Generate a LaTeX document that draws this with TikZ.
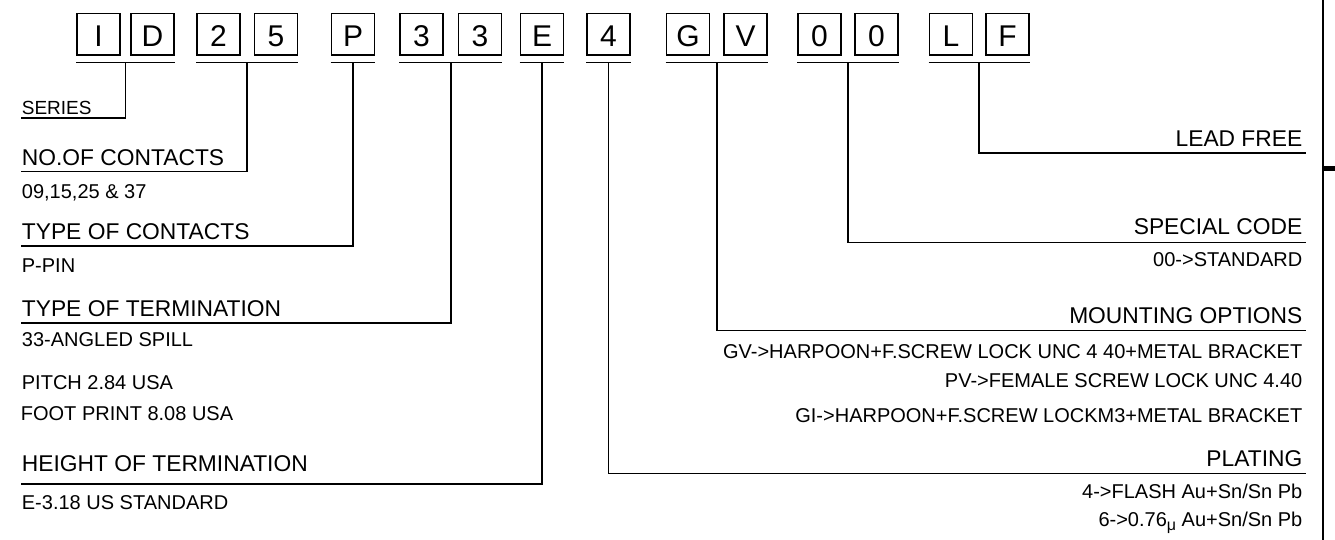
\documentclass[tikz,border=0pt]{standalone}
\usepackage{fontspec}
\setmainfont{Liberation Sans}
\usetikzlibrary{calc}
\begin{document}
\begin{tikzpicture}[x=1bp,y=-1bp,
  cbox/.style={draw, line width=1.8bp, minimum width=43bp, minimum height=41.7bp, inner sep=0pt, text height=24.6bp, text depth=0pt, font=\fontsize{30bp}{30bp}\selectfont},
  head/.style={inner sep=0pt, font=\fontsize{22.8bp}{22.8bp}\selectfont},
  sub/.style={inner sep=0pt, font=\fontsize{20bp}{20bp}\selectfont},
  ser/.style={inner sep=0pt, font=\fontsize{19bp}{19bp}\selectfont},
  uline/.style={line width=1.8bp},
  conn/.style={line width=1.6bp},
]
\useasboundingbox (0,0) rectangle (1335,540);

% ---- code boxes ----
\node[cbox] (bI)  at (98.5,34.35)  {I};
\node[cbox] (bD)  at (152.5,34.35) {D};
\node[cbox] (b2)  at (218.5,34.35) {2};
\node[cbox] (b5)  at (276,34.35)   {5};
\node[cbox] (bP)  at (353,34.35)   {P};
\node[cbox] (b3a) at (421.5,34.35) {3};
\node[cbox] (b3b) at (480,34.35)   {3};
\node[cbox] (bE)  at (542,34.35)   {E};
\node[cbox] (b4)  at (608.5,34.35) {4};
\node[cbox] (bG)  at (688,34.35)   {G};
\node[cbox] (bV)  at (745.5,34.35) {V};
\node[cbox] (b0a) at (819.5,34.35) {0};
\node[cbox] (b0b) at (876.5,34.35) {0};
\node[cbox] (bL)  at (951,34.35)   {L};
\node[cbox] (bF)  at (1007.5,34.35){F};

% ---- group underlines ----
\foreach \a/\b/\n in {bI/bD/ID, b2/b5/N, bP/bP/P, b3a/b3b/T, bE/bE/E, b4/b4/F4, bG/bV/GV, b0a/b0b/Z, bL/bF/LF}{
  \coordinate (s\n) at ($(\a.south west)+(0,6.5)$);
  \coordinate (t\n) at ($(\b.south east)+(0,6.5)$);
  \coordinate (m\n) at ($(s\n)!0.5!(t\n)$);
  \draw[uline] (s\n) -- (t\n);
}

% ---- left labels ----
\node[ser,  anchor=base west] (lSeries) at (21.7,114.3) {SERIES};
\node[head, anchor=base west] (lNo)     at (21.7,165.7) {NO.OF CONTACTS};
\node[sub,  anchor=base west] (lNoV)    at (21.7,198.3) {09,15,25 \& 37};
\node[head, anchor=base west] (lTc)     at (21.7,239.3) {TYPE OF CONTACTS};
\node[sub,  anchor=base west] (lTcV)    at (21.7,272.7) {P-PIN};
\node[head, anchor=base west] (lTt)     at (21.7,316.7) {TYPE OF TERMINATION};
\node[sub,  anchor=base west] (lTt1)    at (21.7,346.7) {33-ANGLED SPILL};
\node[sub,  anchor=base west] (lTt2)    at (21.7,389.3) {PITCH 2.84 USA};
\node[sub,  anchor=base west] (lTt3)    at (20.7,420.7) {FOOT PRINT 8.08 USA};
\node[head, anchor=base west] (lHt)     at (21.7,471.7) {HEIGHT OF TERMINATION};
\node[sub,  anchor=base west] (lHtV)    at (21.7,509)   {E-3.18 US STANDARD};

\coordinate (eSeries) at ($(lSeries.base west)+(-0.7,4)$);
\coordinate (eNo)     at ($(lNo.base west)+(-0.7,6)$);
\coordinate (eTc)     at ($(lTc.base west)+(-0.7,6.4)$);
\coordinate (eTt)     at ($(lTt.base west)+(-0.7,6)$);
\coordinate (eHt)     at ($(lHt.base west)+(-0.7,12.3)$);

\draw[conn] (mID) |- (eSeries);
\draw[conn] (mN)  |- (eNo);
\draw[conn] (mP)  |- (eTc);
\draw[conn] (mT)  |- (eTt);
\draw[conn] (mE)  |- (eHt);

% ---- right labels ----
\node[head, anchor=base east] (rLf)  at (1302.5,146.7) {LEAD FREE};
\node[head, anchor=base east] (rSc)  at (1302.5,235)   {SPECIAL CODE};
\node[sub,  anchor=base east] (rScV) at (1302.5,266.7) {00->STANDARD};
\node[head, anchor=base east] (rMo)  at (1302.5,323.6) {MOUNTING OPTIONS};
\node[sub,  anchor=base east] (rMo1) at (1302.5,358.7) {GV->HARPOON+F.SCREW LOCK UNC 4 40+METAL BRACKET};
\node[sub,  anchor=base east] (rMo2) at (1302.5,387.3) {PV->FEMALE SCREW LOCK UNC 4.40};
\node[sub,  anchor=base east] (rMo3) at (1302.5,422.7) {GI->HARPOON+F.SCREW LOCKM3+METAL BRACKET};
\node[head, anchor=base east] (rPl)  at (1302.5,466)   {PLATING};
\node[sub,  anchor=base east] (rPl1) at (1302.5,498.3) {4->FLASH Au+Sn/Sn Pb};
\node[sub,  anchor=base east] (rPl2) at (1302.5,526.7) {6->0.76\raisebox{-3.5bp}{\fontsize{16bp}{16bp}\selectfont μ} Au+Sn/Sn Pb};

\coordinate (eLf) at ($(rLf.base east)+(3,6.6)$);
\coordinate (eSc) at ($(rSc.base east)+(3,7.7)$);
\coordinate (eMo) at ($(rMo.base east)+(3,6.7)$);
\coordinate (ePl) at ($(rPl.base east)+(3,7.3)$);

\draw[conn] (mLF) |- (eLf);
\draw[conn] (mZ)  |- (eSc);
\draw[conn] (mGV) |- (eMo);
\draw[conn] (mF4) |- (ePl);

% ---- right border ----
\draw[line width=2bp] (1322.7,0) -- (1322.7,540);
\draw[line width=4.5bp] (1322.7,168.3) -- (1335,168.3);
\end{tikzpicture}
\end{document}
